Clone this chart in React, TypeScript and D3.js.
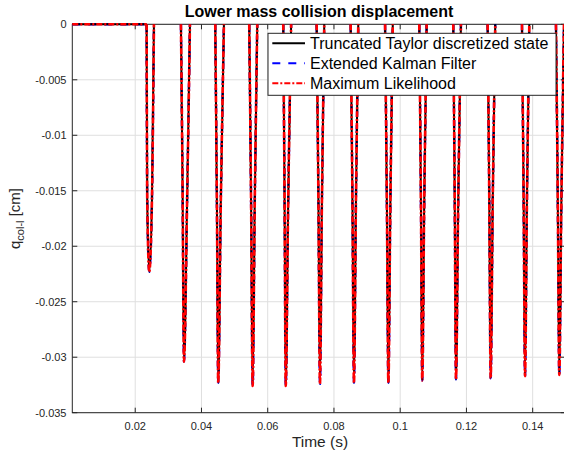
import React from "react";
import * as d3 from "d3";

// ---- data ----
const xTicks = [0.02, 0.04, 0.06, 0.08, 0.1, 0.12, 0.14];
const yTicks = [0, -0.005, -0.01, -0.015, -0.02, -0.025, -0.03, -0.035];
const xDomain = [0.001, 0.15];
const yDomain = [-0.035, 0];

// Flat segment before the first contact
const restT = [0.001, 0.02344];
const restQ = [0, 0];

// Each contact dip: start, half-depth (in), bottom, half-depth (out), end
const dipStart = [0.02344, 0.0338, 0.04416, 0.05442, 0.06469, 0.07478, 0.08504, 0.09543, 0.10576, 0.11602, 0.1264, 0.13677, 0.14703];
const dipHalfIn = [0.02362, 0.03431, 0.04466, 0.05499, 0.0651, 0.07532, 0.08559, 0.09598, 0.10626, 0.11647, 0.1269, 0.13727, 0.14758];
const dipBottom = [0.02423, 0.03471, 0.04506, 0.05545, 0.06544, 0.07577, 0.08604, 0.09643, 0.10666, 0.11684, 0.12731, 0.13768, 0.14803];
const dipHalfOut = [0.02505, 0.0357, 0.04583, 0.05608, 0.06617, 0.07636, 0.08663, 0.09703, 0.10726, 0.11752, 0.12794, 0.13827, 0.14867];
const dipEnd = [0.02565, 0.03652, 0.04678, 0.05684, 0.06707, 0.07707, 0.08734, 0.09776, 0.10799, 0.11834, 0.1287, 0.13898, 0.14945];
const dipDepth = [-0.0223, -0.0304, -0.0323, -0.0326, -0.0326, -0.0324, -0.0323, -0.0323, -0.0321, -0.032, -0.0319, -0.0317, -0.0316];
const dipHalfDepth = [-0.0158, -0.0152, -0.0162, -0.0163, -0.0163, -0.0162, -0.0162, -0.0162, -0.016, -0.016, -0.016, -0.0158, -0.0158];

const seriesNames = [
  "Truncated Taylor discretized state",
  "Extended Kalman Filter",
  "Maximum Likelihood",
];
const seriesColors = ["#000000", "#0000ff", "#ff0000"];
const seriesDash = ["none", "8,8", "6,2,2,2"];
const seriesWidth = [2, 2.4, 2.6];
const drawOrder = [1, 0, 2];

const W = 564;
const H = 454;
const M = { left: 72.3, right: 565.8, top: 24.3, bottom: 412.7 };
const FONT = "'Liberation Sans', Arial, Helvetica, sans-serif";
const AX = "#262626";

type P = [number, number];

export default function App() {
  const x = d3.scaleLinear().domain(xDomain).range([M.left, M.right]);
  const y = d3.scaleLinear().domain(yDomain).range([M.bottom, M.top]);

  const segments: P[][] = [];
  segments.push(restT.map((t, i) => [t, restQ[i]] as P));
  dipStart.forEach((_, i) => {
    segments.push([
      [dipStart[i], 0],
      [dipHalfIn[i], dipHalfDepth[i]],
      [dipBottom[i], dipDepth[i]],
      [dipHalfOut[i], dipHalfDepth[i]],
      [dipEnd[i], 0],
    ]);
  });

  const line = d3
    .line<P>()
    .x((d) => x(d[0]))
    .y((d) => y(d[1]))
    .curve(d3.curveMonotoneX);

  const tick = 5;
  const leg = { x: 268, y: 33.3, w: 288, h: 62 };

  return (
    <svg
      width={W}
      height={H}
      style={{ position: "absolute", left: 0, top: 0, background: "#fff" }}
      fontFamily={FONT}
    >
      <rect x={0} y={0} width={W} height={H} fill="#fff" />
      {/* grid */}
      {xTicks.map((t) => (
        <line key={"gx" + t} x1={x(t)} x2={x(t)} y1={M.top} y2={M.bottom} stroke="#dfdfdf" strokeWidth={1} />
      ))}
      {yTicks.map((t) => (
        <line key={"gy" + t} x1={M.left} x2={M.right} y1={y(t)} y2={y(t)} stroke="#dfdfdf" strokeWidth={1} />
      ))}
      {/* axes box */}
      <rect x={M.left} y={M.top} width={M.right - M.left} height={M.bottom - M.top} fill="none" stroke={AX} strokeWidth={1} />
      {xTicks.map((t) => (
        <g key={"tx" + t}>
          <line x1={x(t)} x2={x(t)} y1={M.bottom} y2={M.bottom - tick} stroke={AX} />
          <line x1={x(t)} x2={x(t)} y1={M.top} y2={M.top + tick} stroke={AX} />
          <text x={x(t)} y={429.5} textAnchor="middle" fontSize={11} fill={AX}>
            {String(t)}
          </text>
        </g>
      ))}
      {yTicks.map((t) => (
        <g key={"ty" + t}>
          <line x1={M.left} x2={M.left + tick} y1={y(t)} y2={y(t)} stroke={AX} />
          <line x1={M.right} x2={M.right - tick} y1={y(t)} y2={y(t)} stroke={AX} />
          <text x={66.5} y={y(t) + 4} textAnchor="end" fontSize={11} fill={AX}>
            {t === 0 ? "0" : String(t)}
          </text>
        </g>
      ))}
      {/* data */}
      {drawOrder.map((si) => (
        <g key={seriesNames[si]}>
          {segments.map((seg, k) => (
            <path
              key={k}
              d={line(seg) || ""}
              fill="none"
              stroke={seriesColors[si]}
              strokeWidth={seriesWidth[si]}
              strokeDasharray={seriesDash[si]}
              strokeLinejoin="round"
            />
          ))}
        </g>
      ))}
      {/* title */}
      <text x={(M.left + M.right) / 2} y={17.3} textAnchor="middle" fontSize={16} fontWeight="bold" fill="#000">
        Lower mass collision displacement
      </text>
      {/* axis labels */}
      <text x={320} y={447} textAnchor="middle" fontSize={15.5} fill={AX}>
        Time (s)
      </text>
      <text transform={`translate(20, ${(M.top + M.bottom) / 2}) rotate(-90)`} textAnchor="middle" fontSize={15} fill={AX}>
        q
        <tspan fontSize={11} dy={4}>col-l</tspan>
        <tspan dy={-4}> [cm]</tspan>
      </text>
      {/* legend */}
      <rect x={leg.x} y={leg.y} width={leg.w} height={leg.h} fill="#fff" stroke={AX} strokeWidth={1} />
      {seriesNames.map((name, i) => (
        <g key={"lg" + name}>
          <line
            x1={272.3}
            x2={305}
            y1={43.3 + i * 20}
            y2={43.3 + i * 20}
            stroke={seriesColors[i]}
            strokeWidth={2}
            strokeDasharray={seriesDash[i]}
          />
          <text x={310} y={43.3 + i * 20 + 5.5} fontSize={16} fill="#000">
            {name}
          </text>
        </g>
      ))}
    </svg>
  );
}
